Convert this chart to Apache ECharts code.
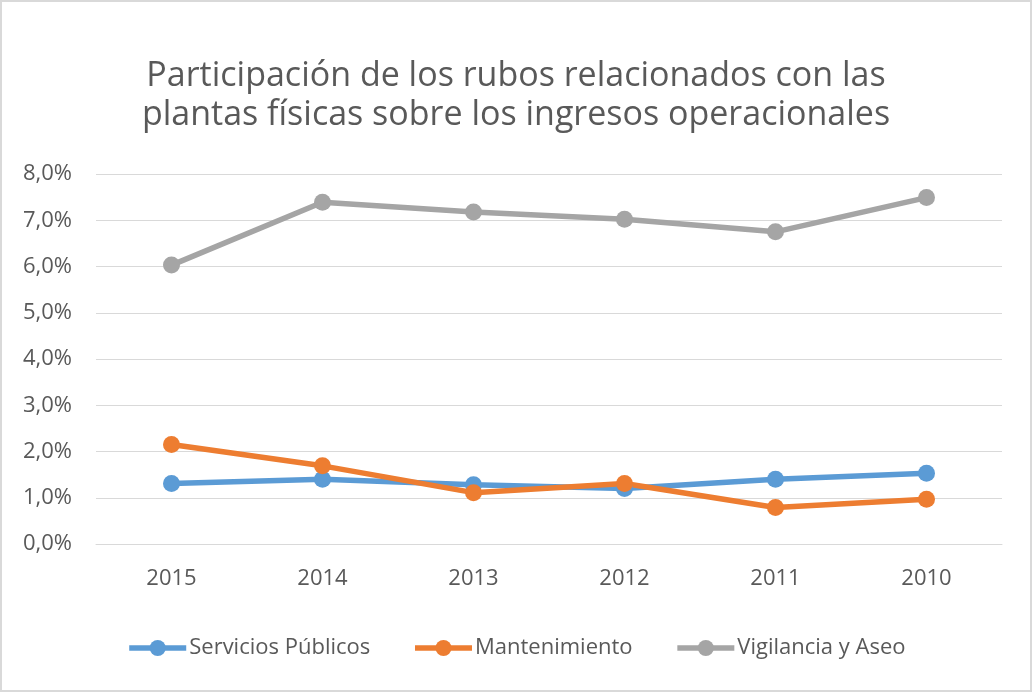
<!DOCTYPE html>
<html>
<head>
<meta charset="utf-8">
<script src="https://cdn.jsdelivr.net/npm/echarts@6/dist/echarts.min.js"></script>
<style>
  html, body { margin: 0; padding: 0; background: #fff; }
  #chart { width: 1032px; height: 692px; }
</style>
</head>
<body>
<div id="chart"></div>
<script>
// años (eje x)
const years = ["2015", "2014", "2013", "2012", "2011", "2010"];
// porcentajes
const serviciosPublicos = [1.31, 1.40, 1.28, 1.20, 1.40, 1.53];
const mantenimiento = [2.15, 1.69, 1.11, 1.31, 0.79, 0.97];
const vigilanciaAseo = [6.03, 7.39, 7.18, 7.02, 6.75, 7.49];
const seriesNames = ["Servicios Públicos", "Mantenimiento", "Vigilancia y Aseo"];
const colors = ["#5B9BD5", "#ED7D31", "#A5A5A5"];

const chart = echarts.init(document.getElementById("chart"));
const font = "'Open Sans', 'Noto Sans', sans-serif";

const mkLine = (name, data, color) => ({
  name: name,
  type: "line",
  data: data,
  symbol: "circle",
  symbolSize: 17,
  lineStyle: { width: 5.5, color: color },
  itemStyle: { color: color },
  z: 2,
});

chart.setOption({
  animation: false,
  textStyle: { fontFamily: font },
  title: {
    text: "Participación de los rubos relacionados con las\nplantas físicas sobre los ingresos operacionales",
    left: "center",
    top: 52,
    textStyle: {
      fontFamily: font,
      fontSize: 34,
      fontWeight: "normal",
      color: "#595959",
      lineHeight: 39,
    },
  },
  grid: { left: 96, right: 30, top: 174, bottom: 148 },
  xAxis: {
    type: "category",
    data: years,
    boundaryGap: true,
    axisLine: { lineStyle: { color: "#D9D9D9" } },
    axisTick: { show: false },
    axisLabel: { color: "#595959", fontSize: 22, margin: 24, fontFamily: font },
  },
  yAxis: {
    type: "value",
    min: 0,
    max: 8,
    interval: 1,
    axisLine: { show: false },
    axisTick: { show: false },
    splitLine: { lineStyle: { color: "#D9D9D9", width: 1 } },
    axisLabel: {
      color: "#595959",
      fontSize: 22,
      margin: 24,
      fontFamily: font,
      formatter: (v) => v.toFixed(1).replace(".", ",") + "%",
    },
  },
  legend: {
    bottom: 28,
    left: "center",
    itemWidth: 57,
    itemHeight: 20,
    itemGap: 42,
    lineStyle: { width: 5.5 },
    textStyle: { color: "#595959", fontSize: 22, fontFamily: font, padding: [0, 0, 0, -2] },
    data: seriesNames,
  },
  series: [
    mkLine(seriesNames[0], serviciosPublicos, colors[0]),
    mkLine(seriesNames[1], mantenimiento, colors[1]),
    mkLine(seriesNames[2], vigilanciaAseo, colors[2]),
  ],
  graphic: [
    {
      type: "rect",
      shape: { x: 1, y: 1, width: 1030, height: 690 },
      style: { fill: "none", stroke: "#D9D9D9", lineWidth: 2 },
      silent: true,
    },
  ],
});
</script>
</body>
</html>
